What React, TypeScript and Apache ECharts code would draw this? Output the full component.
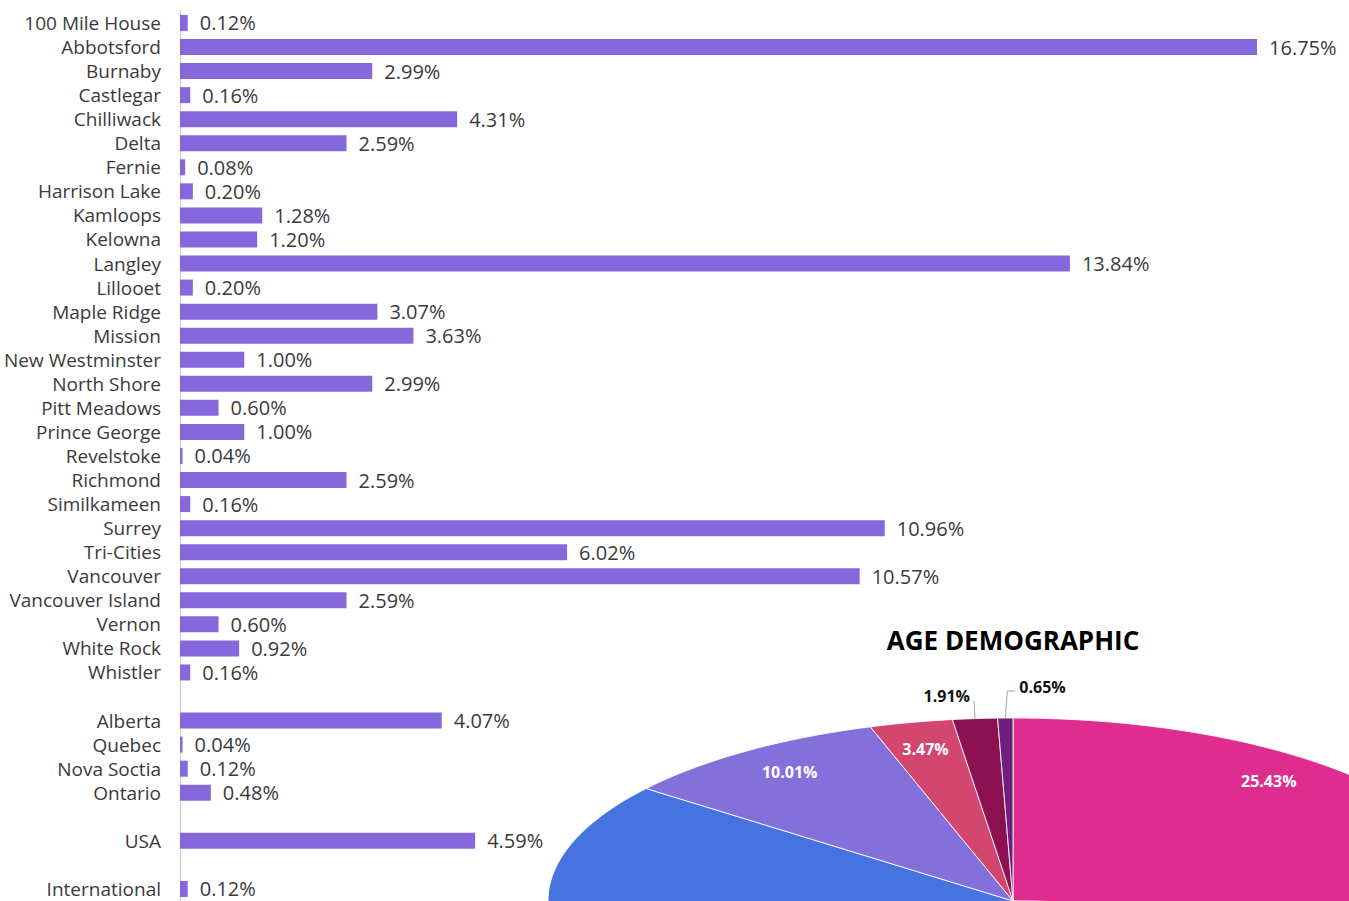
import React, { useEffect, useRef } from 'react';
import * as echarts from 'echarts';

// ---------- Bar chart data ----------
const regions = [
  '100 Mile House', 'Abbotsford', 'Burnaby', 'Castlegar', 'Chilliwack', 'Delta', 'Fernie',
  'Harrison Lake', 'Kamloops', 'Kelowna', 'Langley', 'Lillooet', 'Maple Ridge', 'Mission',
  'New Westminster', 'North Shore', 'Pitt Meadows', 'Prince George', 'Revelstoke', 'Richmond',
  'Similkameen', 'Surrey', 'Tri-Cities', 'Vancouver', 'Vancouver Island', 'Vernon', 'White Rock',
  'Whistler', ' ', 'Alberta', 'Quebec', 'Nova Soctia', 'Ontario', '  ', 'USA', '   ', 'International',
];
const regionShares: (number | null)[] = [
  0.12, 16.75, 2.99, 0.16, 4.31, 2.59, 0.08,
  0.2, 1.28, 1.2, 13.84, 0.2, 3.07, 3.63,
  1.0, 2.99, 0.6, 1.0, 0.04, 2.59,
  0.16, 10.96, 6.02, 10.57, 2.59, 0.6, 0.92,
  0.16, null, 4.07, 0.04, 0.12, 0.48, null, 4.59, null, 0.12,
];

// ---------- Age demographic pie data (clockwise from 12 o'clock) ----------
const ageShares = [25.43, 27.44, 31.09, 10.01, 3.47, 1.91, 0.65];
const ageColors = ['#de2d8f', '#3a9ad8', '#4673e0', '#8470da', '#d3466e', '#8b1152', '#6e1e7d'];
const ageLabelKind = ['inside', 'none', 'none', 'inside', 'inside', 'outsideLeft', 'outsideRight'];

const FONT = '"Open Sans", "Noto Sans", sans-serif';

export default function App() {
  const ref = useRef<HTMLDivElement>(null);

  useEffect(() => {
    if (!ref.current) return;
    const chart = echarts.init(ref.current, undefined, { renderer: 'svg' });

    const total = ageShares.reduce((a, b) => a + b, 0);
    const starts: number[] = [];
    let acc = 0;
    for (const v of ageShares) {
      starts.push(acc);
      acc += v;
    }

    const CX = 1013;
    const CY = 901;
    const RA = 465;
    const RB = 183;
    const K = 0.81;
    const pt = (theta: number, rx = 1, ry = rx) => {
      const phi = Math.atan2(K * Math.sin(theta), Math.cos(theta));
      return [CX + RA * rx * Math.sin(phi), CY - RB * ry * Math.cos(phi)];
    };

    const renderItem = (params: any, api: any) => {
      const i = params.dataIndex;
      const v = api.value(0) as number;
      const t0 = (starts[i] / total) * Math.PI * 2;
      const t1 = ((starts[i] + v) / total) * Math.PI * 2;
      const pts: number[][] = [[CX, CY]];
      const steps = Math.max(4, Math.ceil(((t1 - t0) / (Math.PI * 2)) * 360));
      for (let s = 0; s <= steps; s++) {
        pts.push(pt(t0 + ((t1 - t0) * s) / steps));
      }
      const children: any[] = [
        {
          type: 'polygon',
          shape: { points: pts },
          style: { fill: ageColors[i], stroke: 'rgba(255,255,255,0.85)', lineWidth: 1 },
        },
      ];
      const mid = (t0 + t1) / 2;
      const txt = v.toFixed(2) + '%';
      const kind = ageLabelKind[i];
      if (kind === 'inside') {
        const [lx, ly] = pt(mid, 0.86, 0.85);
        children.push({
          type: 'text',
          style: {
            text: txt, x: lx, y: ly, fill: '#ffffff',
            fontSize: 16, fontWeight: 'bold', fontFamily: FONT,
            align: 'center', verticalAlign: 'middle',
            textAlign: 'center', textVerticalAlign: 'middle',
          },
        });
      } else if (kind === 'outsideLeft') {
        const [ex, ey] = pt(mid, 1);
        children.push({
          type: 'polyline',
          shape: { points: [[ex, ey], [ex - 1, ey - 18]] },
          style: { stroke: '#a6a6a6', lineWidth: 1, fill: null },
        });
        children.push({
          type: 'text',
          style: {
            text: txt, x: ex - 5, y: ey - 23, fill: '#111111',
            fontSize: 16, fontWeight: 'bold', fontFamily: FONT,
            align: 'right', verticalAlign: 'middle',
            textAlign: 'right', textVerticalAlign: 'middle',
          },
        });
      } else if (kind === 'outsideRight') {
        const [ex, ey] = pt(mid, 1);
        children.push({
          type: 'polyline',
          shape: { points: [[ex, ey], [ex + 2, ey - 27], [ex + 10, ey - 27]] },
          style: { stroke: '#a6a6a6', lineWidth: 1, fill: null },
        });
        children.push({
          type: 'text',
          style: {
            text: txt, x: ex + 14, y: ey - 31, fill: '#111111',
            fontSize: 16, fontWeight: 'bold', fontFamily: FONT,
            align: 'left', verticalAlign: 'middle',
            textAlign: 'left', textVerticalAlign: 'middle',
          },
        });
      }
      return { type: 'group', children };
    };

    const pxPerUnit = 64.3;
    const xMax = 18;
    const rowH = 24.14;
    const firstRow = 23;

    chart.setOption({
      animation: false,
      backgroundColor: '#ffffff',
      grid: {
        left: 180,
        width: xMax * pxPerUnit,
        top: firstRow - rowH / 2,
        height: rowH * regions.length,
        containLabel: false,
      },
      xAxis: { type: 'value', min: 0, max: xMax, show: false },
      yAxis: {
        type: 'category',
        data: regions,
        inverse: true,
        axisLine: { show: true, lineStyle: { color: '#c8c8c8', width: 1 } },
        axisTick: { show: false },
        splitLine: { show: false },
        axisLabel: { fontSize: 19, color: '#3a3a3a', margin: 19, fontFamily: FONT, interval: 0 },
      },
      graphic: [
        {
          type: 'text',
          x: 1013,
          y: 640,
          z: 100,
          style: {
            text: 'AGE DEMOGRAPHIC',
            fill: '#000000',
            fontSize: 26,
            fontWeight: 'bold',
            fontFamily: FONT,
            align: 'center',
            verticalAlign: 'middle',
            textAlign: 'center',
            textVerticalAlign: 'middle',
          },
        },
      ],
      series: [
        {
          type: 'bar',
          data: regionShares,
          barWidth: 16,
          silent: true,
          itemStyle: { color: '#8468dc' },
          label: {
            show: true,
            position: 'right',
            distance: 12,
            fontSize: 20,
            color: '#3a3a3a',
            fontFamily: FONT,
            formatter: (p: any) => (p.value == null ? '' : Number(p.value).toFixed(2) + '%'),
          },
        },
        {
          type: 'custom',
          coordinateSystem: 'none',
          silent: true,
          z: 10,
          data: ageShares,
          renderItem,
        },
      ],
    });

    return () => chart.dispose();
  }, []);

  return (
    <div
      ref={ref}
      style={{ position: 'fixed', left: 0, top: 0, width: 1349, height: 901, background: '#fff' }}
    />
  );
}
